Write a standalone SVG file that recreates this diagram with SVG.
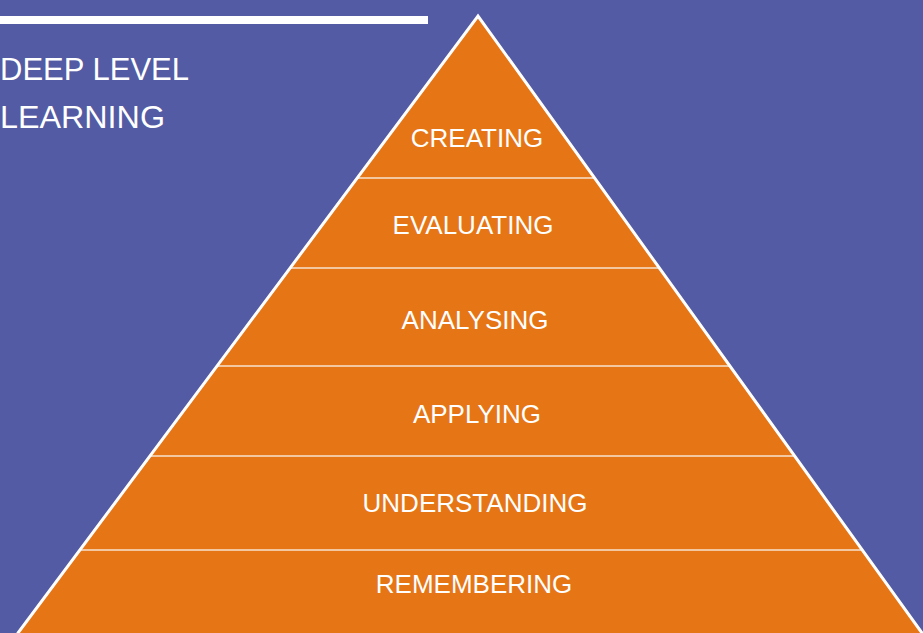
<svg xmlns="http://www.w3.org/2000/svg" width="923" height="633" viewBox="0 0 923 633">
<style>
.lbl{font-family:"Liberation Sans",Arial,sans-serif;font-size:26px;fill:#ffffff;text-anchor:middle}
.title{font-family:"Liberation Sans",Arial,sans-serif;font-size:31px;fill:#ffffff}
.div{stroke:#f7e4cf;stroke-width:1.6}
.edge{stroke:#ffffff;stroke-width:3;fill:none;stroke-linecap:round}
</style>
<rect x="0" y="0" width="923" height="633" fill="#525ba3"/>
<g id="header">
<rect x="0" y="16" width="428" height="8" fill="#ffffff"/>
<text class="title" x="0" y="80" textLength="189" lengthAdjust="spacingAndGlyphs">DEEP LEVEL</text>
<text class="title" x="0" y="128" textLength="165" lengthAdjust="spacingAndGlyphs">LEARNING</text>
</g>
<g id="pyramid">
<polygon points="478,16 18,633 922,633" fill="#e67516"/>
</g>
<g id="connectors">
<line class="div" x1="357.3" y1="178" x2="594.6" y2="178"/>
<line class="div" x1="290.3" y1="268" x2="659.4" y2="268"/>
<line class="div" x1="217.3" y1="366" x2="730" y2="366"/>
<line class="div" x1="150.2" y1="456" x2="794.8" y2="456"/>
<line class="div" x1="80.2" y1="550" x2="862.5" y2="550"/>
<polyline class="edge" points="18,633 478,16 922,633"/>
</g>
<g id="creating"><text class="lbl" x="477" y="147">CREATING</text></g>
<g id="evaluating"><text class="lbl" x="473" y="234">EVALUATING</text></g>
<g id="analysing"><text class="lbl" x="475" y="329">ANALYSING</text></g>
<g id="applying"><text class="lbl" x="477" y="423">APPLYING</text></g>
<g id="understanding"><text class="lbl" x="475" y="512">UNDERSTANDING</text></g>
<g id="remembering"><text class="lbl" x="474" y="593">REMEMBERING</text></g>
</svg>
